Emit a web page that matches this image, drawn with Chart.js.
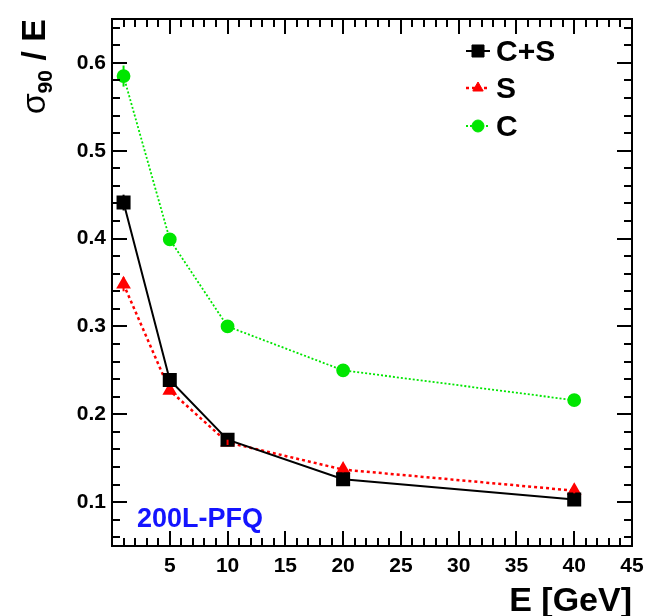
<!DOCTYPE html>
<html>
<head>
<meta charset="utf-8">
<script src="https://cdn.jsdelivr.net/npm/chart.js@4.4.0/dist/chart.umd.min.js"></script>
<style>
  html, body { margin: 0; padding: 0; background: #fff; }
  #wrap { width: 645px; height: 616px; }
</style>
</head>
<body>
<div id="wrap"><canvas id="chartRes"></canvas></div>
<script>
// Datos
const energias = [1, 5, 10, 20, 40];
const resCS = [0.441, 0.239, 0.171, 0.126, 0.103];
const errCS = [0.009, 0.005, 0.004, 0.003, 0.003];
const resS = [0.348, 0.227, 0.168, 0.137, 0.113];
const errS = [0.008, 0.004, 0.003, 0.003, 0.003];
const resC = [0.585, 0.399, 0.300, 0.250, 0.216];
const errC = [0.012, 0.004, 0.003, 0.003, 0.003];

const xTicks = [5, 10, 15, 20, 25, 30, 35, 40, 45];
const yTicks = [0.1, 0.2, 0.3, 0.4, 0.5, 0.6];

const seriesNames = ['C+S', 'S', 'C'];
const textoEtiqueta = '200L-PFQ';
const tituloX = 'E [GeV]';

const FUENTE = '"Liberation Sans", Arial, Helvetica, sans-serif';
const VERDE = '#00e600';

const puntos = (vals) => energias.map((e, i) => ({ x: e, y: vals[i] }));

// Plugin: marco estilo ROOT, ticks internos, leyenda, textos y barras de error
const marcoRoot = {
    id: 'marcoRoot',
    afterDatasetsDraw(chart) {
        const ctx = chart.ctx;
        const sx = chart.scales.x;
        const sy = chart.scales.y;

        // Barras de error
        chart.data.datasets.forEach((ds) => {
            if (!ds.err) return;
            ctx.save();
            ctx.strokeStyle = ds.borderColor;
            ctx.lineWidth = 2;
            ds.data.forEach((p, i) => {
                const px = sx.getPixelForValue(p.x);
                ctx.beginPath();
                ctx.moveTo(px, sy.getPixelForValue(p.y - ds.err[i]));
                ctx.lineTo(px, sy.getPixelForValue(p.y + ds.err[i]));
                ctx.stroke();
            });
            ctx.restore();
        });
    },
    afterDraw(chart) {
        const ctx = chart.ctx;
        const area = chart.chartArea;
        const sx = chart.scales.x;
        const sy = chart.scales.y;

        ctx.save();
        ctx.strokeStyle = '#000';
        ctx.lineWidth = 2;
        ctx.strokeRect(area.left, area.top, area.right - area.left, area.bottom - area.top);

        // Ticks del eje X (abajo y arriba)
        for (let v = 1; v < 45; v++) {
            const px = Math.round(sx.getPixelForValue(v));
            const len = v % 5 === 0 ? 15 : 8;
            ctx.beginPath();
            ctx.moveTo(px, area.bottom);
            ctx.lineTo(px, area.bottom - len);
            ctx.moveTo(px, area.top);
            ctx.lineTo(px, area.top + len);
            ctx.stroke();
        }
        // Ticks del eje Y (izquierda y derecha)
        for (let k = 3; k <= 32; k++) {
            const v = k * 0.02;
            const py = Math.round(sy.getPixelForValue(v));
            const len = k % 5 === 0 ? 15 : 8;
            ctx.beginPath();
            ctx.moveTo(area.left, py);
            ctx.lineTo(area.left + len, py);
            ctx.moveTo(area.right, py);
            ctx.lineTo(area.right - len, py);
            ctx.stroke();
        }

        // Leyenda
        const legY = [51, 88, 126];
        const legX = 478;
        chart.data.datasets.forEach((ds, i) => {
            ctx.save();
            ctx.strokeStyle = ds.borderColor;
            ctx.lineWidth = ds.borderWidth;
            ctx.setLineDash(ds.borderDash || []);
            ctx.beginPath();
            ctx.moveTo(legX - 12, legY[i]);
            ctx.lineTo(legX + 12, legY[i]);
            ctx.stroke();
            ctx.restore();
            ctx.fillStyle = ds.pointBackgroundColor;
            ctx.strokeStyle = ds.pointBorderColor;
            ctx.lineWidth = 1;
            Chart.helpers.drawPoint(ctx, {
                pointStyle: ds.pointStyle,
                radius: ds.pointRadius,
                borderWidth: 1
            }, legX, legY[i]);
        });
        ctx.fillStyle = '#000';
        ctx.font = 'bold 30px ' + FUENTE;
        ctx.textAlign = 'left';
        ctx.textBaseline = 'alphabetic';
        seriesNames.forEach((n, i) => ctx.fillText(n, 496, legY[i] + 10));

        // Etiqueta azul
        ctx.fillStyle = '#1414ff';
        ctx.font = 'bold 27px ' + FUENTE;
        ctx.fillText(textoEtiqueta, 137, 527);

        // Título eje X
        ctx.fillStyle = '#000';
        ctx.font = 'bold 34px ' + FUENTE;
        ctx.textAlign = 'right';
        ctx.fillText(tituloX, area.right, 611);

        // Título eje Y: sigma_90 / E (girado)
        ctx.translate(45, 19);
        ctx.rotate(-Math.PI / 2);
        ctx.textAlign = 'left';
        const partes = [
            { t: '\u03c3', f: '34px ' + FUENTE, dy: 0 },
            { t: '90', f: 'bold 21px ' + FUENTE, dy: 7 },
            { t: ' / E', f: 'bold 34px ' + FUENTE, dy: 0 }
        ];
        let total = 0;
        partes.forEach(p => { ctx.font = p.f; p.w = ctx.measureText(p.t).width; total += p.w; });
        let cx = -total;
        partes.forEach(p => {
            ctx.font = p.f;
            ctx.fillText(p.t, cx, p.dy);
            cx += p.w;
        });
        ctx.restore();
    }
};

new Chart(document.getElementById('chartRes').getContext('2d'), {
    type: 'scatter',
    data: {
        datasets: [
            {
                label: seriesNames[0],
                data: puntos(resCS),
                err: errCS,
                showLine: true,
                borderColor: '#000',
                borderWidth: 2,
                pointStyle: 'rect',
                pointRadius: 8.5,
                pointBackgroundColor: '#000',
                pointBorderColor: '#000',
                order: 1
            },
            {
                label: seriesNames[1],
                data: puntos(resS),
                err: errS,
                showLine: true,
                borderColor: '#ff0000',
                borderWidth: 2.5,
                borderDash: [3, 3],
                pointStyle: 'triangle',
                pointRadius: 6,
                pointBackgroundColor: '#ff0000',
                pointBorderColor: '#ff0000',
                order: 2
            },
            {
                label: seriesNames[2],
                data: puntos(resC),
                err: errC,
                showLine: true,
                borderColor: VERDE,
                borderWidth: 1.8,
                borderDash: [2, 2],
                pointStyle: 'circle',
                pointRadius: 6,
                pointBackgroundColor: VERDE,
                pointBorderColor: VERDE,
                order: 3
            }
        ]
    },
    options: {
        responsive: true,
        maintainAspectRatio: false,
        animation: false,
        devicePixelRatio: 1,
        layout: { padding: { left: 0, top: 19, right: 13, bottom: 0 } },
        plugins: {
            legend: { display: false },
            tooltip: { enabled: false }
        },
        scales: {
            x: {
                type: 'linear',
                min: 0,
                max: 45,
                grid: { display: false, drawTicks: false },
                border: { display: false },
                afterBuildTicks: (scale) => { scale.ticks = xTicks.map(v => ({ value: v })); },
                afterFit: (scale) => { scale.height = 70; scale.paddingRight = 0; scale.paddingLeft = 0; },
                ticks: {
                    padding: 8,
                    color: '#000',
                    maxRotation: 0,
                    autoSkip: false,
                    font: { family: FUENTE, size: 21, weight: 'bold' }
                }
            },
            y: {
                type: 'linear',
                min: 0.05,
                max: 0.65,
                grid: { display: false, drawTicks: false },
                border: { display: false },
                afterBuildTicks: (scale) => { scale.ticks = yTicks.map(v => ({ value: v })); },
                afterFit: (scale) => { scale.width = 112; scale.paddingTop = 0; scale.paddingBottom = 0; },
                ticks: {
                    padding: 6,
                    color: '#000',
                    autoSkip: false,
                    callback: (v) => v.toFixed(1),
                    font: { family: FUENTE, size: 21, weight: 'bold' }
                }
            }
        }
    },
    plugins: [marcoRoot]
});
</script>
</body>
</html>
